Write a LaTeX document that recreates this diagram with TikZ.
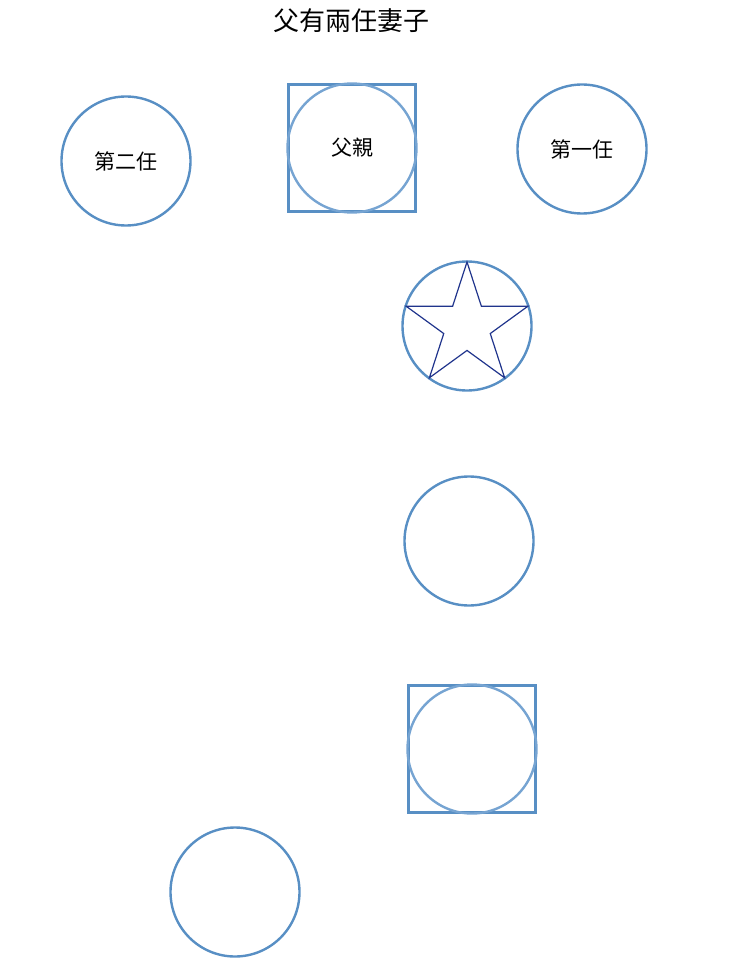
\documentclass[tikz,border=0pt]{standalone}
\usepackage{fontspec}
\newfontfamily\cjk{Noto Sans CJK TC}
\usetikzlibrary{shapes.geometric}
\definecolor{ringblue}{RGB}{88,143,196}
\definecolor{paleblue}{RGB}{118,164,210}
\definecolor{starblue}{RGB}{32,52,140}
\tikzset{
	person/.style = {circle, draw=ringblue, line width=2.4pt, inner sep=0pt,
		minimum size=129pt, font=\cjk\fontsize{21}{25}\selectfont},
	inring/.style = {person, draw=paleblue},
	boxed/.style = {rectangle, draw=ringblue, line width=2.4pt, inner sep=0pt,
		minimum size=127pt},
	starmark/.style = {star, star points=5, star point ratio=2.618, draw=starblue,
		line width=1.2pt, inner sep=0pt, minimum size=128pt}
}
\begin{document}
\begin{tikzpicture}[x=1pt,y=-1pt]
\useasboundingbox (0,0) rectangle (740,960);
\node (title) at (351,21) {\cjk\fontsize{26}{30}\selectfont 父有兩任妻子};
% top row
\node [person] (wife2) at (126,161) {第二任};
\node [boxed] (fatherbox) at (352,148) {};
\node [inring] (father) at (352,148) {父親};
\node [person] (wife1) at (582,149) {第一任};
% column
\node [person] (starring) at (467,326) {};
\node [starmark] (starsign) at (467,326) {};
\node [person] (plain) at (469,541) {};
\node [boxed] (lowbox) at (472,749) {};
\node [inring] (lowring) at (472,749) {};
\node [person] (last) at (235,892) {};
\end{tikzpicture}
\end{document}
